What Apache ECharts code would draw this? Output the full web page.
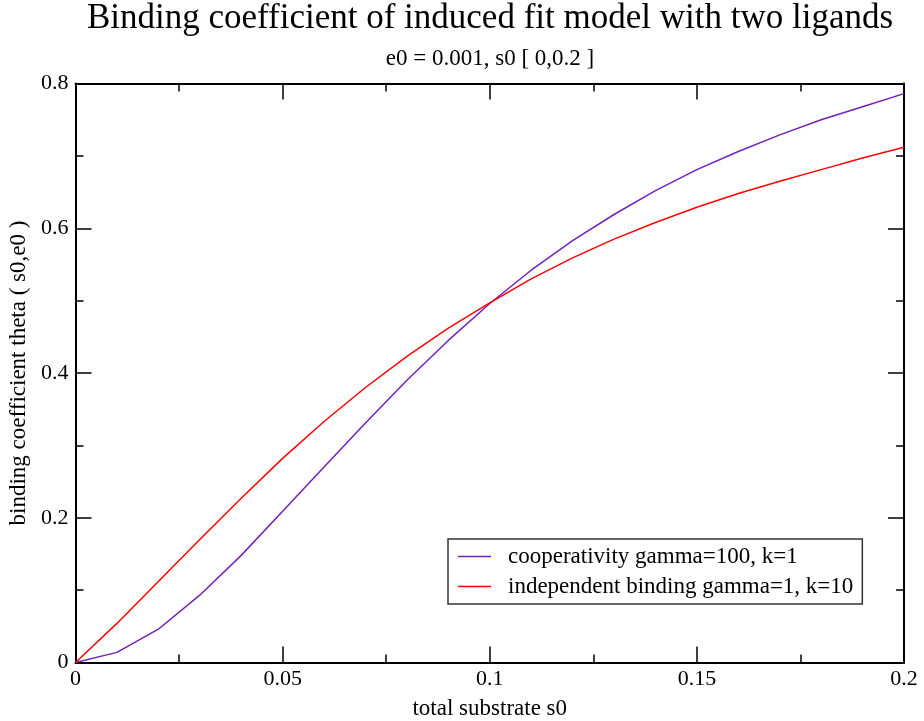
<!DOCTYPE html>
<html>
<head>
<meta charset="utf-8">
<script src="https://cdn.jsdelivr.net/npm/echarts@6/dist/echarts.min.js"></script>
<style>
  html, body { margin: 0; padding: 0; background: #fff; }
  #main { width: 924px; height: 721px; }
</style>
</head>
<body>
<div id="main"></div>
<script>
// total substrate s0
var s0 = [0, 0.01, 0.02, 0.03, 0.04, 0.05, 0.06, 0.07, 0.08, 0.09, 0.1,
          0.11, 0.12, 0.13, 0.14, 0.15, 0.16, 0.17, 0.18, 0.19, 0.2];
// cooperativity gamma=100, k=1
var coop = [0, 0.014, 0.046, 0.093, 0.148, 0.209, 0.27, 0.331, 0.39, 0.445, 0.496,
            0.542, 0.583, 0.619, 0.652, 0.681, 0.706, 0.729, 0.75, 0.768, 0.786];
// independent binding gamma=1, k=10
var indep = [0, 0.054, 0.112, 0.17, 0.227, 0.282, 0.333, 0.38, 0.423, 0.462, 0.497,
             0.53, 0.559, 0.585, 0.608, 0.629, 0.648, 0.665, 0.681, 0.697, 0.712];
var seriesNames = ['cooperativity gamma=100, k=1', 'independent binding gamma=1, k=10'];

function pairs(xs, ys) {
    return xs.map(function (x, i) { return [x, ys[i]]; });
}

var font = 'Liberation Serif';
var myChart = echarts.init(document.getElementById('main'));

function frameAxis(extra) {
    var base = {
        axisLine: { show: true, onZero: false, lineStyle: { color: '#000', width: 2 } },
        axisTick: { show: true, inside: true, length: 16, lineStyle: { color: '#000', width: 1.5 } },
        minorTick: { show: true, splitNumber: 2, length: 8, lineStyle: { color: '#000', width: 1.5 } },
        splitLine: { show: false },
        axisLabel: { show: false }
    };
    return Object.assign(base, extra);
}

var option = {
    backgroundColor: '#fff',
    title: [
        {
            text: 'Binding coefficient of induced fit model with two ligands',
            left: 490, top: 1, textAlign: 'center', padding: 0,
            textStyle: { fontFamily: font, fontSize: 35, fontWeight: 'normal', color: '#000' }
        },
        {
            text: 'e0 = 0.001, s0 [ 0,0.2 ]',
            left: 490, top: 47, textAlign: 'center', padding: 0,
            textStyle: { fontFamily: font, fontSize: 23, fontWeight: 'normal', color: '#000' }
        }
    ],
    legend: {
        orient: 'vertical',
        left: 448, top: 539,
        padding: [6, 9, 6, 10],
        itemGap: 7,
        icon: 'rect',
        itemWidth: 33, itemHeight: 1.5,
        borderColor: '#333', borderWidth: 1.5,
        textStyle: { fontFamily: font, fontSize: 23, color: '#000', padding: [0, 0, 0, 12] },
        data: seriesNames
    },
    grid: { left: 75.5, top: 83.5, width: 828.5, height: 579, outerBoundsMode: 'none', containLabel: false },
    xAxis: [
        frameAxis({
            type: 'value', position: 'bottom', min: 0, max: 0.2, interval: 0.05,
            name: 'total substrate s0', nameLocation: 'middle', nameGap: 35,
            nameTextStyle: { fontFamily: font, fontSize: 23, color: '#000' },
            axisLabel: { show: true, margin: 6, fontFamily: font, fontSize: 22, color: '#000' }
        }),
        frameAxis({ type: 'value', position: 'top', min: 0, max: 0.2, interval: 0.05 })
    ],
    yAxis: [
        frameAxis({
            type: 'value', position: 'left', min: 0, max: 0.8, interval: 0.2,
            name: 'binding coefficient theta ( s0,e0 )', nameLocation: 'middle', nameGap: 44,
            nameTextStyle: { fontFamily: font, fontSize: 23, color: '#000' },
            axisLabel: { show: true, margin: 7, fontFamily: font, fontSize: 22, color: '#000' }
        }),
        frameAxis({ type: 'value', position: 'right', min: 0, max: 0.8, interval: 0.2 })
    ],
    series: [
        {
            name: seriesNames[0], type: 'line', symbol: 'none',
            xAxisIndex: 0, yAxisIndex: 0,
            lineStyle: { color: '#7221bc', width: 1.5 }, itemStyle: { color: '#7221bc' },
            data: pairs(s0, coop)
        },
        {
            name: seriesNames[1], type: 'line', symbol: 'none',
            xAxisIndex: 0, yAxisIndex: 0,
            lineStyle: { color: '#ff0000', width: 1.5 }, itemStyle: { color: '#ff0000' },
            data: pairs(s0, indep)
        }
    ]
};
myChart.setOption(option);
</script>
</body>
</html>
